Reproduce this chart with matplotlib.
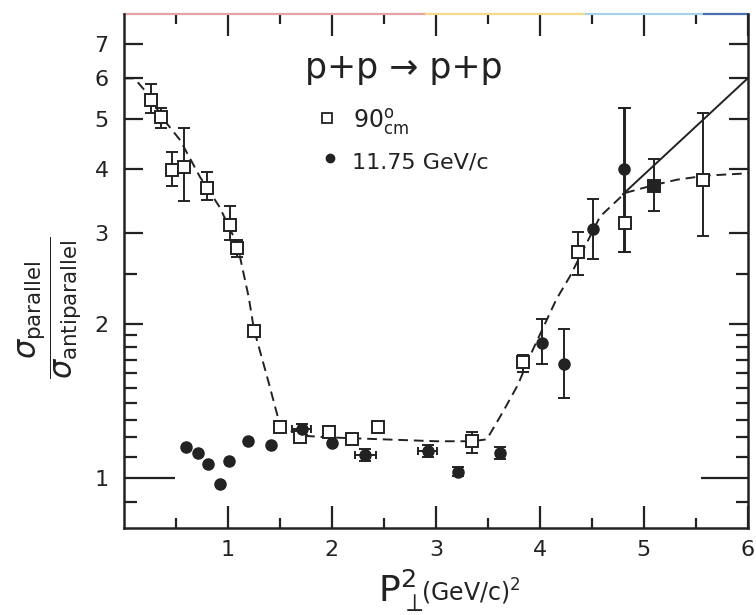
import matplotlib
matplotlib.use("Agg")
import matplotlib.pyplot as plt
import numpy as np

# 90 deg cm data (open squares), asymmetric errors (nan = no bar drawn)
sq_x = [0.26, 0.36, 0.46, 0.58, 0.80, 1.02, 1.09, 1.25, 1.50, 1.69, 1.97, 2.19, 2.44, 3.35, 3.84, 4.37, 4.82, 5.57]
sq_y = [5.44, 5.05, 3.98, 4.04, 3.67, 3.11, 2.81, 1.93, 1.26, 1.20, 1.23, 1.19, 1.26, 1.18, 1.68, 2.75, 3.14, 3.81]
sq_lo = [0.30, 0.25, 0.27, 0.58, 0.19, 0.20, 0.12, np.nan, np.nan, np.nan, np.nan, np.nan, np.nan, 0.06, 0.07, 0.26, 0.38, 0.85]
sq_hi = [0.41, 0.20, 0.33, 0.76, 0.28, 0.28, 0.10, np.nan, np.nan, np.nan, np.nan, np.nan, np.nan, 0.05, 0.06, 0.27, 2.11, 1.32]

# overlapping point drawn as a filled square
fs_x = [5.10]
fs_y = [3.71]
fs_lo = [0.40]
fs_hi = [0.47]

# 11.75 GeV/c data (filled circles)
ci_x = [0.60, 0.71, 0.81, 0.92, 1.01, 1.19, 1.41, 1.71, 2.00, 2.32, 2.92, 3.21, 3.62, 4.02, 4.23, 4.51, 4.81]
ci_y = [1.15, 1.12, 1.065, 0.973, 1.08, 1.18, 1.16, 1.245, 1.17, 1.11, 1.13, 1.03, 1.12, 1.83, 1.67, 3.06, 4.00]
ci_lo = [np.nan, np.nan, np.nan, np.nan, np.nan, np.nan, np.nan, 0.03, np.nan, 0.03, 0.03, 0.02, 0.03, 0.16, 0.24, 0.39, 1.24]
ci_hi = [np.nan, np.nan, np.nan, np.nan, np.nan, np.nan, np.nan, 0.03, np.nan, 0.03, 0.03, 0.02, 0.03, 0.21, 0.28, 0.44, 1.25]
ci_xerr = [np.nan, np.nan, np.nan, np.nan, np.nan, np.nan, np.nan, 0.09, np.nan, 0.10, 0.09, np.nan, np.nan, np.nan, np.nan, np.nan, np.nan]

# hand-drawn guide curves
dash_x = [0.0, 0.1, 0.26, 0.36, 0.54, 0.73, 0.92, 1.09, 1.20, 1.25, 1.39, 1.50, 1.70, 2.0, 2.5, 3.0, 3.35,
          3.49, 3.64, 3.79, 3.90, 4.16, 4.29, 4.58, 4.82, 5.10, 5.32, 5.60, 6.0]
dash_y = [6.0, 6.0, 5.5, 5.05, 4.55, 3.86, 3.37, 2.85, 2.25, 1.95, 1.54, 1.27, 1.21, 1.20, 1.19, 1.18, 1.18,
          1.19, 1.34, 1.52, 1.72, 2.23, 2.47, 3.23, 3.59, 3.72, 3.81, 3.88, 3.92]
solid_x = [4.80, 6.0]
solid_y = [3.57, 6.0]

y_major = [1, 2, 3, 4, 5, 6, 7]
y_minor = [0.9, 1.1, 1.2, 1.3, 1.4, 1.5, 1.6, 1.7, 1.8, 1.9, 2.5]
x_major = [1, 2, 3, 4, 5, 6]
x_minor = [0.5, 1.5, 2.5, 3.5, 4.5, 5.5]

ink = "#222222"

fig = plt.figure(figsize=(7.56, 6.15), dpi=100)
ax = fig.add_axes([0.164, 0.1415, 0.825, 0.8355])

ax.set_yscale("log")
ax.set_xlim(0, 6)
ax.set_ylim(0.8, 8.0)

ax.plot(dash_x, dash_y, ls=(0, (5, 3)), lw=1.4, color=ink)
ax.plot(solid_x, solid_y, ls="-", lw=1.4, color=ink)


def draw_points(x, y, lo, hi, xerr=None, **kw):
    x = np.asarray(x, float)
    y = np.asarray(y, float)
    lo = np.asarray(lo, float)
    hi = np.asarray(hi, float)
    m = ~np.isnan(lo)
    ax.errorbar(x[m], y[m], yerr=[lo[m], hi[m]], fmt="none", ecolor=ink,
                elinewidth=1.4, capsize=4.5, capthick=1.4, zorder=2)
    if xerr is not None:
        xe = np.asarray(xerr, float)
        mx = ~np.isnan(xe)
        ax.errorbar(x[mx], y[mx], xerr=xe[mx], fmt="none", ecolor=ink,
                    elinewidth=1.4, capsize=3, capthick=1.4, zorder=2)
    ax.plot(x, y, ls="none", zorder=3, **kw)


draw_points(sq_x, sq_y, sq_lo, sq_hi, marker="s", ms=9, mfc="white", mec=ink, mew=1.4)
draw_points(fs_x, fs_y, fs_lo, fs_hi, marker="s", ms=9, mfc=ink, mec=ink, mew=1.4)
draw_points(ci_x, ci_y, ci_lo, ci_hi, xerr=ci_xerr, marker="o", ms=8, mfc=ink, mec=ink)

# axes, ticks
ax.set_yticks(y_major)
ax.set_yticklabels([str(v) for v in y_major])
ax.set_yticks(y_minor, minor=True)
ax.yaxis.set_minor_formatter(matplotlib.ticker.NullFormatter())
ax.set_xticks(x_major)
ax.set_xticklabels([str(v) for v in x_major])
ax.set_xticks(x_minor, minor=True)

ax.tick_params(axis="both", which="both", direction="in", top=True, right=True,
               colors=ink, width=1.6, labelsize=16)
ax.tick_params(axis="x", which="major", length=16, pad=9)
ax.tick_params(axis="x", which="minor", length=7.5)
ax.tick_params(axis="y", which="major", length=14, pad=11)
ax.tick_params(axis="y", which="minor", length=9)

# the unit line gets a long tick on both sides
for t in ax.yaxis.get_major_ticks():
    if abs(t.get_loc() - 1) < 1e-9:
        t.tick1line.set_markersize(37)
        t.tick2line.set_markersize(34)

for s in ["left", "bottom", "right"]:
    ax.spines[s].set_linewidth(1.8)
    ax.spines[s].set_color(ink)
ax.spines["top"].set_visible(False)
# faint tinted upper frame line
for x0, x1, c in [(0.0, 0.485, "#e6a3a3"), (0.485, 0.74, "#f0d98a"),
                  (0.74, 0.93, "#a9d2e6"), (0.93, 1.0, "#4a6db0")]:
    ax.plot([x0, x1], [1, 1], color=c, lw=1.6, transform=ax.transAxes, clip_on=False)

# reaction and legend
ax.text(0.290, 0.875, "p+p \u2192 p+p", transform=ax.transAxes, fontsize=25,
        color=ink, ha="left", va="baseline")
ax.plot([0.325], [0.798], marker="s", ms=7, mfc="white", mec=ink, mew=1.3,
        transform=ax.transAxes, clip_on=False)
ax.text(0.367, 0.778, r"90$^{\mathrm{o}}_{\mathrm{cm}}$", transform=ax.transAxes,
        fontsize=17, color=ink, ha="left", va="baseline")
ax.plot([0.330], [0.720], marker="o", ms=6, mfc=ink, mec=ink,
        transform=ax.transAxes, clip_on=False)
ax.text(0.365, 0.700, "11.75 GeV/c", transform=ax.transAxes, fontsize=16,
        color=ink, ha="left", va="baseline")

# axis titles
fig.text(378 / 756, 1 - 602 / 615, r"$\mathrm{P}_{\perp}^{2}$", fontsize=26,
         color=ink, ha="left", va="baseline")
fig.text(421 / 756, 1 - 601 / 615, r"(GeV/c)$^{2}$", fontsize=17,
         color=ink, ha="left", va="baseline")
fig.text(50 / 756, 1 - 308 / 615,
         r"$\dfrac{\sigma_{\mathrm{parallel}}}{\sigma_{\mathrm{antiparallel}}}$",
         rotation=90, fontsize=22, color=ink, ha="center", va="center")

fig.savefig("out.png", dpi=100)
